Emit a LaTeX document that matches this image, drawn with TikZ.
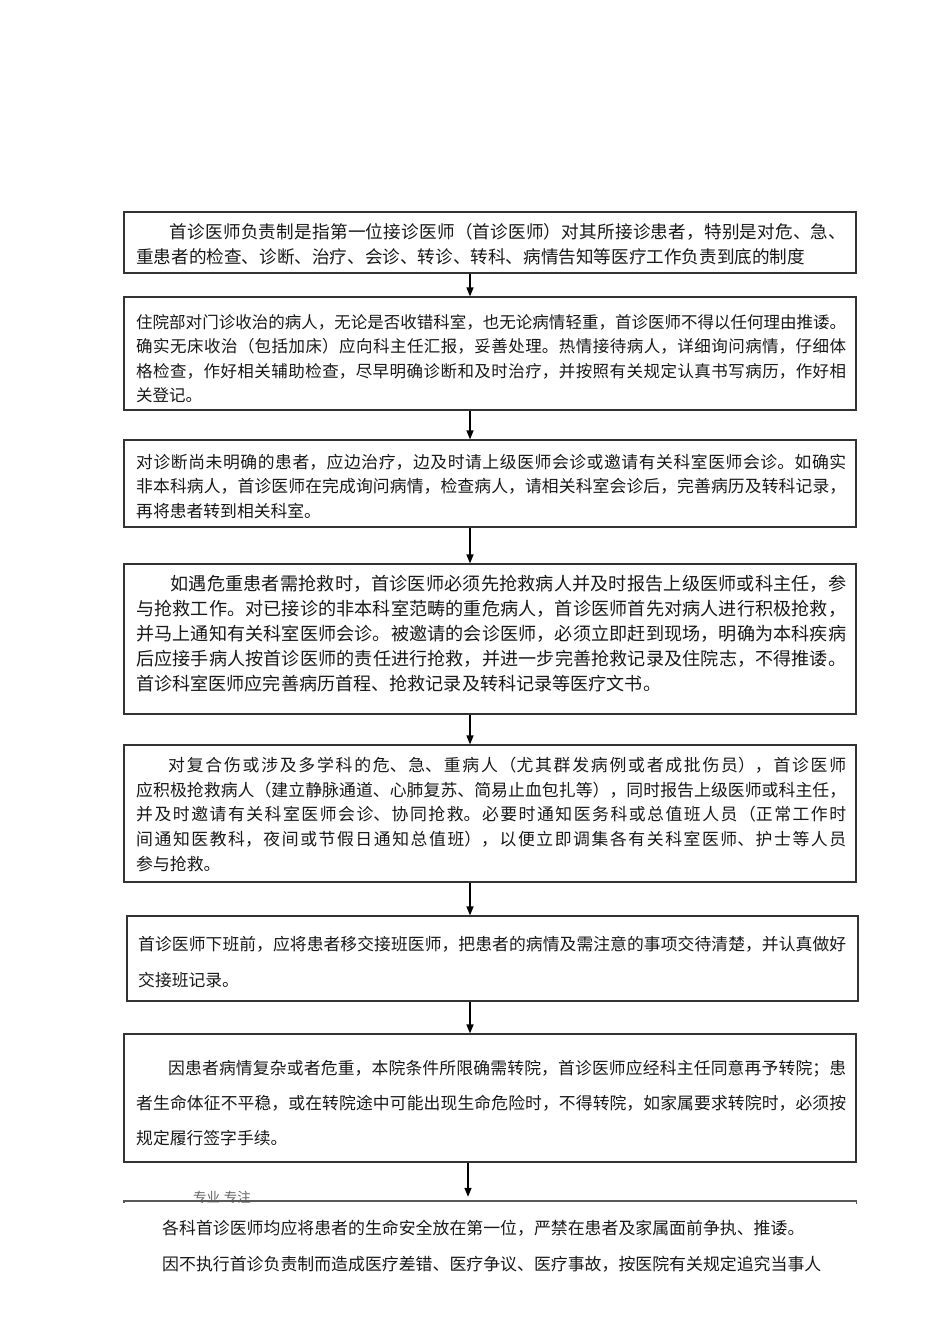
\documentclass[tikz,border=0pt]{standalone}
\usepackage{fontspec}
\setmainfont{Noto Sans CJK SC}
\usetikzlibrary{arrows.meta,fit}
\XeTeXlinebreaklocale "zh"
\XeTeXlinebreakskip=0pt plus 3pt minus 0.6pt
\begin{document}
\begin{tikzpicture}[x=1pt,y=-1pt,
  boxst/.style={draw=black!80,line width=1.2pt,inner sep=0pt},
  txt/.style={inner sep=0pt,anchor=base west,align=justify,text width=710pt,text=black!90},
  arr/.style={line width=1.4pt,draw=black,-{Triangle[length=9pt,width=7pt]}}]
\useasboundingbox (0,0) rectangle (950,1344);
\fill[white] (0,0) rectangle (950,1344);

% boxes
\node[boxst,fit={(124,212) (856,273)}] (b1) {};
\node[boxst,fit={(124,297) (856,410)}] (b2) {};
\node[boxst,fit={(124,440) (856,527)}] (b3) {};
\node[boxst,fit={(124,564) (856,714)}] (b4) {};
\node[boxst,fit={(124,745) (856,882)}] (b5) {};
\node[boxst,fit={(127,916) (858,1001)}] (b6) {};
\node[boxst,fit={(124,1034) (856,1162)}] (b7) {};
\node[inner sep=0pt,fit={(124,1201) (856,1290)}] (b8) {};

% texts
\node[txt,font=\fontsize{17.6}{25}\selectfont] (t1) at (136,238.7) {\hspace*{1.9em}首诊医师负责制是指第一位接诊医师（首诊医师）对其所接诊患者，特别是对危、急、\linebreak 重患者的检查、诊断、治疗、会诊、转诊、转科、病情告知等医疗工作负责到底的制度};

\node[txt,font=\fontsize{16.5}{24.4}\selectfont] (t2) at (136,328.3) {住院部对门诊收治的病人，无论是否收错科室，也无论病情轻重，首诊医师不得以任何理由推诿。\linebreak 确实无床收治（包括加床）应向科主任汇报，妥善处理。热情接待病人，详细询问病情，仔细体\linebreak 格检查，作好相关辅助检查，尽早明确诊断和及时治疗，并按照有关规定认真书写病历，作好相\linebreak 关登记。};

\node[txt,font=\fontsize{16.8}{24.5}\selectfont] (t3) at (136,468.4) {对诊断尚未明确的患者，应边治疗，边及时请上级医师会诊或邀请有关科室医师会诊。如确实\linebreak 非本科病人，首诊医师在完成询问病情，检查病人，请相关科室会诊后，完善病历及转科记录，\linebreak 再将患者转到相关科室。};

\node[txt,font=\fontsize{18.1}{24.8}\selectfont] (t4) at (136,590.9) {\hspace*{1.9em}如遇危重患者需抢救时，首诊医师必须先抢救病人并及时报告上级医师或科主任，参\linebreak 与抢救工作。对已接诊的非本科室范畴的重危病人，首诊医师首先对病人进行积极抢救，\linebreak 并马上通知有关科室医师会诊。被邀请的会诊医师，必须立即赶到现场，明确为本科疾病\linebreak 后应接手病人按首诊医师的责任进行抢救，并进一步完善抢救记录及住院志，不得推诿。\linebreak 首诊科室医师应完善病历首程、抢救记录及转科记录等医疗文书。};

\node[txt,font=\fontsize{16.85}{24.75}\selectfont] (t5) at (136,771.4) {\hspace*{1.9em}对复合伤或涉及多学科的危、急、重病人（尤其群发病例或者成批伤员），首诊医师\linebreak 应积极抢救病人（建立静脉通道、心肺复苏、简易止血包扎等），同时报告上级医师或科主任，\linebreak 并及时邀请有关科室医师会诊、协同抢救。必要时通知医务科或总值班人员（正常工作时\linebreak 间通知医教科，夜间或节假日通知总值班），以便立即调集各有关科室医师、护士等人员\linebreak 参与抢救。};

\node[txt,text width=708pt,font=\fontsize{16.8}{36}\selectfont] (t6) at (138,950.4) {首诊医师下班前，应将患者移交接班医师，把患者的病情及需注意的事项交待清楚，并认真做好\linebreak 交接班记录。};

\node[txt,font=\fontsize{16.8}{34.8}\selectfont] (t7) at (136,1074.4) {\hspace*{1.9em}因患者病情复杂或者危重，本院条件所限确需转院，首诊医师应经科主任同意再予转院；患\linebreak 者生命体征不平稳，或在转院途中可能出现生命危险时，不得转院，如家属要求转院时，必须按\linebreak 规定履行签字手续。};

\node[txt,align=left,text width=700pt,font=\fontsize{16.9}{36}\selectfont] (t8) at (162,1234.4) {各科首诊医师均应将患者的生命安全放在第一位，严禁在患者及家属面前争执、推诿。\\因不执行首诊负责制而造成医疗差错、医疗争议、医疗事故，按医院有关规定追究当事人};

\node[inner sep=0pt,text=black!60,font=\fontsize{13.5}{14}\selectfont] (wm) at (222,1197) {专业.专注};

\draw[draw=black!65,line width=1.4pt] ([yshift=-2pt]b8.north west) -- (b8.north west) -- (b8.north east) -- ([yshift=-3pt]b8.north east);

% arrows
\coordinate (ax) at (470,0);
\coordinate (ay) at (468,0);
\draw[arr] (b1.south -| ax) -- (b2.north -| ax);
\draw[arr] (b2.south -| ax) -- (b3.north -| ax);
\draw[arr] (b3.south -| ax) -- (b4.north -| ax);
\draw[arr] (b4.south -| ax) -- (b5.north -| ax);
\draw[arr] (b5.south -| ax) -- (b6.north -| ax);
\draw[arr] (b6.south -| ax) -- (b7.north -| ax);
\draw[arr,shorten >=4pt] (b7.south -| ay) -- (b8.north -| ay);
\end{tikzpicture}
\end{document}
